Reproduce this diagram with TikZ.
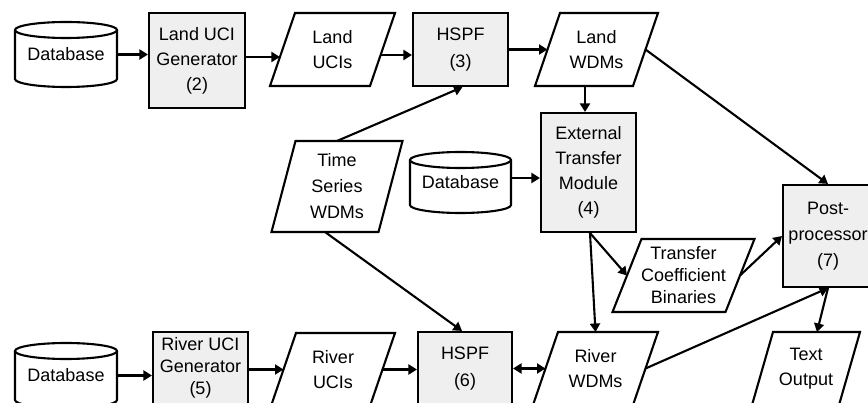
\documentclass[tikz,border=0pt]{standalone}
\usepackage{fontspec}
\setmainfont{Liberation Sans}
\usetikzlibrary{calc,arrows.meta}
\definecolor{boxgray}{HTML}{EFEFEF}
\tikzset{
  shp/.style={line width=2.1pt, line join=miter},
  txt/.style={align=center, inner sep=0pt, font=\fontsize{18}{25}\selectfont},
  tight/.style={font=\fontsize{18}{22}\selectfont},
  plain/.style={txt, outer sep=0pt},
  boxn/.style={txt, draw, line width=2.1pt, fill=boxgray},
  arr/.style={line width=2.1pt, -{Triangle[length=8.5pt,width=10pt]}},
  darr/.style={line width=2.1pt, {Triangle[length=8.5pt,width=10pt]}-{Triangle[length=8.5pt,width=10pt]}},
}
\newcommand\drawpara[2]{\draw[shp] ($(#1.south west)+(-#2pt,0)$) -- ($(#1.north west)+(#2pt,0)$) -- ($(#1.north east)+(#2pt,0)$) -- ($(#1.south east)+(-#2pt,0)$) -- cycle;}
\newcommand\drawcyl[3]{%
  \draw[shp] ($(#1.north west)+(0,-#3pt)$) -- ($(#1.south west)+(0,#3pt)$) arc[start angle=180,end angle=360,x radius=#2pt,y radius=#3pt] -- ($(#1.north east)+(0,-#3pt)$);
  \draw[shp] ($(#1.north)+(0,-#3pt)$) ellipse[x radius=#2pt,y radius=#3pt];}
\begin{document}
\begin{tikzpicture}[x=1pt,y=1pt]
\clip (0,0) rectangle (868,402);
\useasboundingbox (0,0) rectangle (868,402);
% databases
\node[plain, minimum width=102pt, minimum height=65pt] (db1) at (66,347.5) {\raisebox{-5pt}{Database}};
\node[plain, minimum width=101pt, minimum height=61pt] (db2) at (460.5,219.5) {\raisebox{-5pt}{Database}};
\node[plain, minimum width=102pt, minimum height=65pt] (db3) at (66,26.5) {\raisebox{-5pt}{Database}};
\drawcyl{db1}{51}{8}
\drawcyl{db2}{50.5}{8}
\drawcyl{db3}{51}{8}
% process boxes
\node[boxn, minimum width=96pt, minimum height=95pt] (gen1) at (197,341.5) {Land UCI\\Generator\\(2)};
\node[boxn, minimum width=95pt, minimum height=73pt, font=\fontsize{18}{27}\selectfont] (hspf3) at (460.5,352.5) {HSPF\\(3)};
\node[boxn, minimum width=95pt, minimum height=119pt] (etm) at (588.5,229.5) {\raisebox{-3pt}{\parbox{95pt}{\centering External\\Transfer\\Module\\(4)}}};
\node[boxn, minimum width=90pt, minimum height=102pt, font=\fontsize{18}{26}\selectfont] (post) at (828,166) {\raisebox{-3pt}{\parbox{90pt}{\centering Post-\\processor\\(7)}}};
\node[boxn, tight, minimum width=95pt, minimum height=72pt] (gen2) at (200.5,34) {River UCI\\Generator\\(5)};
\node[boxn, minimum width=94pt, minimum height=73pt, font=\fontsize{18}{27}\selectfont] (hspf6) at (465,33.5) {HSPF\\(6)};
% data (parallelograms)
\node[plain, minimum width=100pt, minimum height=73pt] (landuci) at (332.5,352.5) {Land\\UCIs};
\node[plain, minimum width=98pt, minimum height=73pt] (landwdm) at (596.5,352.5) {Land\\WDMs};
\node[plain, minimum width=107pt, minimum height=91pt, font=\fontsize{18}{26}\selectfont] (tsw) at (337,215.5) {\raisebox{-2pt}{\parbox{100pt}{\centering Time\\Series\\WDMs}}};
\node[plain, tight, minimum width=113pt, minimum height=73pt] (tcb) at (683.5,126.5) {\raisebox{-2pt}{\parbox{110pt}{\centering Transfer\\Coefficient\\Binaries}}};
\node[plain, minimum width=99pt, minimum height=73pt] (riveruci) at (333,32.5) {River\\UCIs};
\node[plain, minimum width=100pt, minimum height=73pt] (riverwdm) at (595.5,33.5) {River\\WDMs};
\node[plain, minimum width=87pt, minimum height=73pt] (textout) at (806,33.5) {Text\\Output};
\drawpara{landuci}{12.5}
\drawpara{landwdm}{12.5}
\drawpara{tsw}{12}
\drawpara{tcb}{14.5}
\drawpara{riveruci}{12.5}
\drawpara{riverwdm}{12.5}
\drawpara{textout}{10.5}
% connectors
\draw[arr] (db1.east) -- (db1.east -| gen1.west);
\draw[arr] ($(gen1.east)+(0,3.5)$) -- ($(landuci.west)+(-2.6,-7.5)$);
\draw[arr] ($(landuci.east)+(-1.9,-5.5)$) -- ($(hspf3.west)+(0,-5.5)$);
\draw[arr] (hspf3.east) -- (landwdm.west);
\draw[arr] ($(landwdm.south)+(-11.5,0)$) -- ($(etm.north)+(-3.5,0)$);
\draw[arr] (landwdm.east) -- (post.north);
\draw[arr] (tsw.north) -- ($(hspf3.south)+(2,0)$);
\draw[arr] ($(tsw.south)+(-12,0)$) -- ($(hspf6.north)+(-3,0)$);
\draw[arr] ($(db2.east)+(0,4.5)$) -- ($(db2.east -| etm.west)+(0,4.5)$);
\draw[arr] ($(etm.south)+(1.5,0)$) -- (tcb.west);
\draw[arr] ($(etm.south)+(1.5,0)$) -- (riverwdm.north);
\draw[arr] (tcb.east) -- (post.west);
\draw[arr] (riverwdm.east) -- (post.south);
\draw[arr] (post.south) -- ($(textout.north)+(11,0)$);
\draw[arr] (db3.east) -- (db3.east -| gen2.west);
\draw[arr] (gen2.east |- riveruci.west) -- (riveruci.west);
\draw[arr] (riveruci.east) -- (riveruci.east -| hspf6.west);
\draw[darr] (hspf6.east) -- (riverwdm.west);
\end{tikzpicture}
\end{document}
